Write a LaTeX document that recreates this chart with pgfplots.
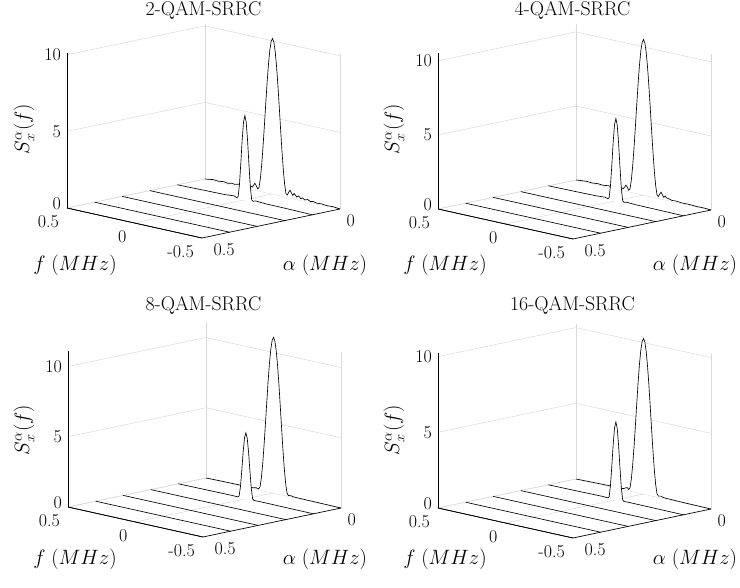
\documentclass[border=0pt]{standalone}
\usepackage{fontspec}
\usepackage{pgfplots}
\pgfplotsset{compat=1.18}

\pgfplotsset{
  wf/.style={
    x={(-135pt,30pt)}, y={(-276pt,-58pt)},
    xmin=-0.5, xmax=0.5, ymin=0, ymax=0.5, zmin=0,
    xtick={-0.5,0,0.5}, xticklabels={-0.5,0,0.5},
    ytick={0,0.5}, yticklabels={0,\hspace*{5pt}0.5},
    ztick={0,5,10}, zticklabels={\raisebox{4pt}{0},5,10},
    grid=major,
    major grid style={black!15, line width=0.5pt},
    axis line style={draw=none},
    major tick length=0pt,
    tick style={draw=none},
    tick label style={font=\fontsize{18}{21}\selectfont, inner sep=0pt},
    xticklabel style={anchor=north east, xshift=-8pt, yshift=-7.5pt},
    yticklabel style={anchor=north west, xshift=6.5pt, yshift=-5.5pt},
    zticklabel style={anchor=base east, xshift=-6pt, yshift=-5.8pt},
    anchor=south west,
    clip=false,
  },
  wline/.style={black, line width=0.65pt, fill=white, mark=none},
  flat/.style={black, line width=0.65pt, mark=none},
}
\newcommand{\axlines}[1]{%
  \draw[black, line width=0.65pt] (axis cs:0.5,0.5,0) -- (axis cs:0.5,0.5,#1);
  \draw[black, line width=0.65pt] (axis cs:0.5,0.5,0) -- (axis cs:-0.5,0.5,0);
  \draw[black, line width=0.65pt] (axis cs:-0.5,0.5,0) -- (axis cs:-0.5,0,0);
}
\newcommand{\flatlines}{%
  \addplot3[flat] coordinates {(0.5,0.2,0) (-0.5,0.2,0)};
  \addplot3[flat] coordinates {(0.5,0.3,0) (-0.5,0.3,0)};
  \addplot3[flat] coordinates {(0.5,0.4,0) (-0.5,0.4,0)};
  \addplot3[flat] coordinates {(0.5,0.5,0) (-0.5,0.5,0)};
}
\newcommand{\labfont}{\fontsize{19.8}{23}\selectfont}

\begin{document}
\begin{tikzpicture}
% ---------------- 2-QAM ----------------
\begin{axis}[wf, zmax=10.15, z={(0pt,15.32pt)}, at={(67pt,-238pt)}]
\addplot3[wline] coordinates {
(0.5,0,0) (0.47,0,0.04) (0.44,0,0.08) (0.40,0,0.05) (0.36,0,0.10) (0.33,0,0.05)
(0.30,0,0.12) (0.28,0,0.08) (0.25,0,0.15) (0.22,0,0.05) (0.20,0,0.12) (0.17,0,0.10)
(0.16,0,0.20) (0.15,0,0.15) (0.14,0,0.30) (0.13,0,0.45) (0.12,0,0.30) (0.11,0,0.12)
(0.10,0,0.21) (0.09,0,0.81) (0.08,0,1.75) (0.07,0,2.97) (0.06,0,4.35) (0.05,0,5.80)
(0.04,0,7.18) (0.03,0,8.40) (0.02,0,9.34) (0.01,0,9.94) (0,0,10.15)
(-0.01,0,9.94) (-0.02,0,9.34) (-0.03,0,8.40) (-0.04,0,7.18) (-0.05,0,5.80)
(-0.06,0,4.35) (-0.07,0,2.97) (-0.08,0,1.75) (-0.09,0,0.81) (-0.10,0,0.21)
(-0.11,0,0.15) (-0.12,0,0.35) (-0.13,0,0.50) (-0.14,0,0.35) (-0.15,0,0.20)
(-0.16,0,0.35) (-0.17,0,0.25) (-0.18,0,0.15) (-0.19,0,0.25) (-0.20,0,0.20)
(-0.21,0,0.10) (-0.22,0,0.18) (-0.24,0,0.08) (-0.26,0,0.15) (-0.28,0,0.06)
(-0.30,0,0.10) (-0.33,0,0.04) (-0.36,0,0.07) (-0.40,0,0.03) (-0.45,0,0.05) (-0.5,0,0)
};
\addplot3[wline] coordinates {
(0.5,0.1,0) (0.3,0.1,0.03) (0.15,0.1,0.05) (0.08,0.1,0.10) (0.06,0.1,0.02)
(0.05,0.1,0.11) (0.04,0.1,0.95) (0.03,0.1,2.36) (0.02,0.1,3.89) (0.01,0.1,5.06)
(0,0.1,5.50) (-0.01,0.1,5.06) (-0.02,0.1,3.89) (-0.03,0.1,2.36) (-0.04,0.1,0.95)
(-0.05,0.1,0.11) (-0.06,0.1,0.02) (-0.08,0.1,0.08) (-0.15,0.1,0.04) (-0.3,0.1,0.03) (-0.5,0.1,0)
};
\flatlines
\axlines{10.15}
\end{axis}
\node[anchor=base, font=\labfont] at (203.5pt,-16pt) {2-QAM-SRRC};
\node[font=\labfont] at (75pt,-265pt) {$f\;(MHz)$};
\node[font=\labfont] at (325pt,-265pt) {$\alpha\;(MHz)$};
\node[rotate=90, font=\labfont] at (24pt,-129pt) {$S_x^{\alpha}(f)$};

% ---------------- 4-QAM ----------------
\begin{axis}[wf, zmax=10.5, z={(0pt,14.81pt)}, at={(438pt,-239pt)}]
\addplot3[wline] coordinates {
(0.5,0,0) (0.46,0,0.04) (0.42,0,0.07) (0.38,0,0.04) (0.34,0,0.08) (0.30,0,0.05)
(0.26,0,0.10) (0.22,0,0.05) (0.19,0,0.10) (0.17,0,0.08) (0.16,0,0.15) (0.15,0,0.12)
(0.14,0,0.25) (0.13,0,0.40) (0.12,0,0.28) (0.11,0,0.10)
(0.10,0,0.21) (0.09,0,0.83) (0.08,0,1.81) (0.07,0,3.07) (0.06,0,4.50) (0.05,0,6.00)
(0.04,0,7.43) (0.03,0,8.69) (0.02,0,9.67) (0.01,0,10.29) (0,0,10.50)
(-0.01,0,10.29) (-0.02,0,9.67) (-0.03,0,8.69) (-0.04,0,7.43) (-0.05,0,6.00)
(-0.06,0,4.50) (-0.07,0,3.07) (-0.08,0,1.81) (-0.09,0,0.83) (-0.10,0,0.21)
(-0.11,0,0.12) (-0.12,0,0.30) (-0.13,0,0.45) (-0.14,0,0.30) (-0.15,0,0.15)
(-0.16,0,0.25) (-0.17,0,0.15) (-0.19,0,0.12) (-0.21,0,0.06) (-0.24,0,0.08)
(-0.28,0,0.04) (-0.33,0,0.05) (-0.40,0,0.02) (-0.45,0,0.03) (-0.5,0,0)
};
\addplot3[wline] coordinates {
(0.5,0.1,0) (0.3,0.1,0.02) (0.15,0.1,0.04) (0.08,0.1,0.08) (0.06,0.1,0.02)
(0.05,0.1,0.11) (0.04,0.1,0.96) (0.03,0.1,2.38) (0.02,0.1,3.94) (0.01,0.1,5.12)
(0,0.1,5.56) (-0.01,0.1,5.12) (-0.02,0.1,3.94) (-0.03,0.1,2.38) (-0.04,0.1,0.96)
(-0.05,0.1,0.11) (-0.06,0.1,0.02) (-0.08,0.1,0.06) (-0.15,0.1,0.03) (-0.3,0.1,0.02) (-0.5,0.1,0)
};
\flatlines
\axlines{10.5}
\end{axis}
\node[anchor=base, font=\labfont] at (572.5pt,-16pt) {4-QAM-SRRC};
\node[font=\labfont] at (445pt,-265pt) {$f\;(MHz)$};
\node[font=\labfont] at (695pt,-265pt) {$\alpha\;(MHz)$};
\node[rotate=90, font=\labfont] at (394pt,-129pt) {$S_x^{\alpha}(f)$};

% ---------------- 8-QAM ----------------
\begin{axis}[wf, zmax=11.07, z={(0pt,14.05pt)}, at={(68pt,-537pt)}]
\addplot3[wline] coordinates {
(0.5,0,0) (0.40,0,0.02) (0.30,0,0.03) (0.20,0,0.04) (0.15,0,0.05) (0.13,0,0.10)
(0.12,0,0.08) (0.11,0,0.06)
(0.10,0,0.22) (0.09,0,0.88) (0.08,0,1.91) (0.07,0,3.24) (0.06,0,4.75) (0.05,0,6.32)
(0.04,0,7.84) (0.03,0,9.16) (0.02,0,10.19) (0.01,0,10.85) (0,0,11.07)
(-0.01,0,10.85) (-0.02,0,10.19) (-0.03,0,9.16) (-0.04,0,7.84) (-0.05,0,6.32)
(-0.06,0,4.75) (-0.07,0,3.24) (-0.08,0,1.91) (-0.09,0,0.88) (-0.10,0,0.22)
(-0.11,0,0.06) (-0.13,0,0.08) (-0.15,0,0.04) (-0.20,0,0.03) (-0.30,0,0.02) (-0.5,0,0)
};
\addplot3[wline] coordinates {
(0.5,0.1,0) (0.3,0.1,0.01) (0.1,0.1,0.02) (0.06,0.1,0.01)
(0.05,0.1,0.10) (0.04,0.1,0.81) (0.03,0.1,2.02) (0.02,0.1,3.33) (0.01,0.1,4.33)
(0,0.1,4.70) (-0.01,0.1,4.33) (-0.02,0.1,3.33) (-0.03,0.1,2.02) (-0.04,0.1,0.81)
(-0.05,0.1,0.10) (-0.06,0.1,0.01) (-0.1,0.1,0.02) (-0.3,0.1,0.01) (-0.5,0.1,0)
};
\flatlines
\axlines{11.07}
\end{axis}
\node[anchor=base, font=\labfont] at (203.5pt,-311pt) {8-QAM-SRRC};
\node[font=\labfont] at (75pt,-559pt) {$f\;(MHz)$};
\node[font=\labfont] at (325pt,-559pt) {$\alpha\;(MHz)$};
\node[rotate=90, font=\labfont] at (24pt,-430pt) {$S_x^{\alpha}(f)$};

% ---------------- 16-QAM ----------------
\begin{axis}[wf, zmax=10.27, z={(0pt,15.14pt)}, at={(438pt,-538pt)}]
\addplot3[wline] coordinates {
(0.5,0,0) (0.40,0,0.02) (0.30,0,0.04) (0.20,0,0.05) (0.15,0,0.06) (0.13,0,0.15)
(0.12,0,0.18) (0.11,0,0.08)
(0.10,0,0.21) (0.09,0,0.82) (0.08,0,1.77) (0.07,0,3.00) (0.06,0,4.40) (0.05,0,5.87)
(0.04,0,7.27) (0.03,0,8.50) (0.02,0,9.45) (0.01,0,10.06) (0,0,10.27)
(-0.01,0,10.06) (-0.02,0,9.45) (-0.03,0,8.50) (-0.04,0,7.27) (-0.05,0,5.87)
(-0.06,0,4.40) (-0.07,0,3.00) (-0.08,0,1.77) (-0.09,0,0.82) (-0.10,0,0.21)
(-0.11,0,0.08) (-0.13,0,0.12) (-0.15,0,0.05) (-0.20,0,0.04) (-0.30,0,0.02) (-0.5,0,0)
};
\addplot3[wline] coordinates {
(0.5,0.1,0) (0.3,0.1,0.01) (0.1,0.1,0.03) (0.06,0.1,0.01)
(0.05,0.1,0.10) (0.04,0.1,0.89) (0.03,0.1,2.20) (0.02,0.1,3.64) (0.01,0.1,4.73)
(0,0.1,5.14) (-0.01,0.1,4.73) (-0.02,0.1,3.64) (-0.03,0.1,2.20) (-0.04,0.1,0.89)
(-0.05,0.1,0.10) (-0.06,0.1,0.01) (-0.1,0.1,0.02) (-0.3,0.1,0.01) (-0.5,0.1,0)
};
\flatlines
\axlines{10.27}
\end{axis}
\node[anchor=base, font=\labfont] at (572.5pt,-311pt) {16-QAM-SRRC};
\node[font=\labfont] at (445pt,-559pt) {$f\;(MHz)$};
\node[font=\labfont] at (695pt,-559pt) {$\alpha\;(MHz)$};
\node[rotate=90, font=\labfont] at (394pt,-430pt) {$S_x^{\alpha}(f)$};

\pgfresetboundingbox
\useasboundingbox (0,0) rectangle (740pt,-588pt);
\end{tikzpicture}
\end{document}
